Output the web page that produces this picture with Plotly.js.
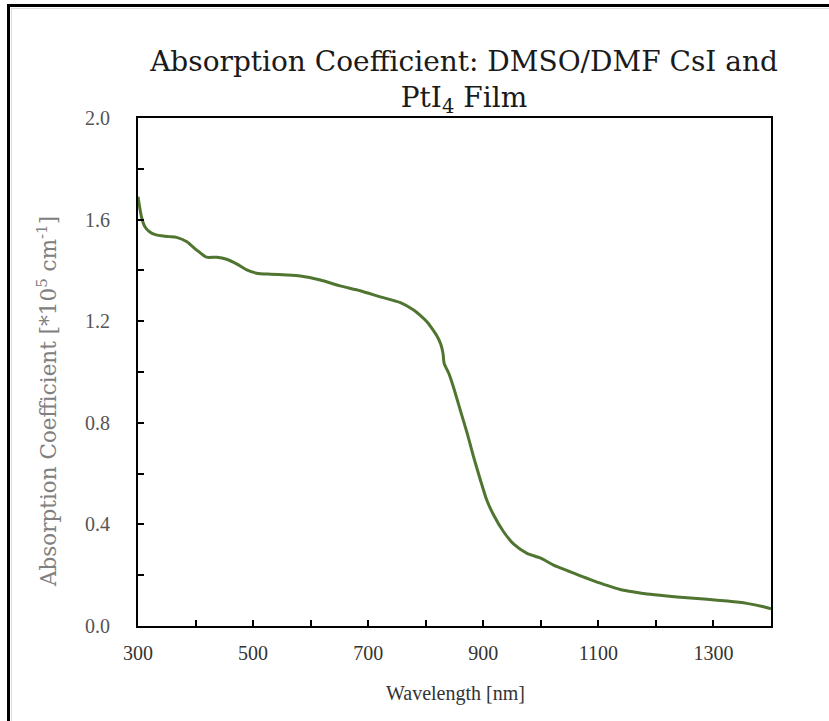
<!DOCTYPE html>
<html>
<head>
<meta charset="utf-8">
<script src="https://cdn.plot.ly/plotly-3.0.1.min.js"></script>
<style>
  html, body { margin: 0; padding: 0; background: #fff; }
  #wrap { position: relative; width: 829px; height: 721px; overflow: hidden; }
  #chart { position: absolute; left: 0; top: 0; width: 829px; height: 721px; }
  #frame { position: absolute; left: 7px; top: 4px; width: 900px; height: 800px;
           border-top: 3px solid #000; border-left: 3px solid #000; pointer-events: none; }
  #frame2 { position: absolute; left: 11px; top: 8px; width: 900px; height: 800px;
           border-top: 1px solid #ddd; border-left: 1px solid #ddd; pointer-events: none; }
</style>
</head>
<body>
<div id="wrap">
  <div id="chart"></div>
  <div id="frame"></div>
  <div id="frame2"></div>
</div>
<script>
const wavelength = [300, 306, 312, 320, 330, 344, 355, 367, 385, 402, 419, 437, 454, 472, 489, 506, 530, 559, 582, 617, 651, 686, 721, 756, 779, 790, 802, 812, 820, 826, 830, 832, 840, 848, 860, 872, 883, 895, 906, 918, 935, 953, 976, 999, 1022, 1046, 1069, 1092, 1115, 1138, 1162, 1185, 1219, 1254, 1289, 1324, 1358, 1387, 1400];
const absorption = [1.69, 1.611, 1.572, 1.552, 1.541, 1.535, 1.533, 1.530, 1.513, 1.480, 1.452, 1.452, 1.444, 1.425, 1.402, 1.389, 1.385, 1.382, 1.378, 1.362, 1.339, 1.320, 1.296, 1.273, 1.244, 1.224, 1.198, 1.168, 1.140, 1.110, 1.074, 1.034, 0.995, 0.942, 0.850, 0.759, 0.667, 0.575, 0.496, 0.437, 0.372, 0.322, 0.286, 0.268, 0.240, 0.218, 0.197, 0.178, 0.160, 0.144, 0.134, 0.126, 0.118, 0.111, 0.105, 0.098, 0.089, 0.076, 0.068];
const xTickVals = [300, 400, 500, 600, 700, 800, 900, 1000, 1100, 1200, 1300, 1400];
const xTickText = ['300', '', '500', '', '700', '', '900', '', '1100', '', '1300', ''];
const yTickVals = [0.0, 0.2, 0.4, 0.6, 0.8, 1.0, 1.2, 1.4, 1.6, 1.8, 2.0];
const yTickText = ['0.0', '', '0.4', '', '0.8', '', '1.2', '', '1.6', '', '2.0'];

const titleText = 'Absorption Coefficient: DMSO/DMF CsI and<br>PtI<sub>4</sub> Film';
const xTitle = 'Wavelength [nm]';
const yTitle = 'Absorption Coefficient [*10<sup>5</sup> cm<sup>-1</sup>]';

const trace = {
  x: wavelength, y: absorption, type: 'scatter', mode: 'lines',
  line: { color: '#4f7530', width: 3, shape: 'spline', smoothing: 0.6 },
  hoverinfo: 'skip'
};

const layout = {
  width: 829, height: 721,
  margin: { l: 138, r: 58, t: 118, b: 95 },
  paper_bgcolor: '#fff', plot_bgcolor: '#fff',
  showlegend: false,
  title: {
    text: titleText,
    font: { family: 'DejaVu Serif', size: 28, color: '#1a1a1a' },
    xref: 'container', yref: 'container',
    x: 464 / 829, xanchor: 'center',
    y: 1 - 71 / 721, yanchor: 'middle'
  },
  xaxis: {
    range: [300, 1400], tickvals: xTickVals, ticktext: xTickText,
    ticks: 'inside', ticklen: 6, tickwidth: 2, tickcolor: '#000',
    showline: true, linecolor: '#000', linewidth: 2, mirror: true,
    showgrid: false, zeroline: false,
    tickfont: { family: 'Liberation Serif', size: 20, color: '#333' },
    ticklabelstandoff: 8
  },
  yaxis: {
    range: [0, 2.0], tickvals: yTickVals, ticktext: yTickText,
    ticks: 'inside', ticklen: 6, tickwidth: 2, tickcolor: '#000',
    showline: true, linecolor: '#000', linewidth: 2, mirror: true,
    showgrid: false, zeroline: false,
    tickfont: { family: 'Liberation Serif', size: 20, color: '#555' },
    ticklabelstandoff: 22
  },
  annotations: [
    { text: xTitle, xref: 'paper', yref: 'paper', x: (455 - 138) / 633, y: -(693 - 626) / 508,
      xanchor: 'center', yanchor: 'middle', showarrow: false,
      font: { family: 'Liberation Serif', size: 20, color: '#333' } },
    { text: yTitle, xref: 'paper', yref: 'paper', x: -(138 - 47) / 633, y: (626 - 402) / 508,
      xanchor: 'center', yanchor: 'middle', showarrow: false, textangle: -90,
      font: { family: 'DejaVu Serif', size: 21.5, color: '#808080' } }
  ]
};

Plotly.newPlot('chart', [trace], layout, { staticPlot: true, displayModeBar: false });
</script>
</body>
</html>
